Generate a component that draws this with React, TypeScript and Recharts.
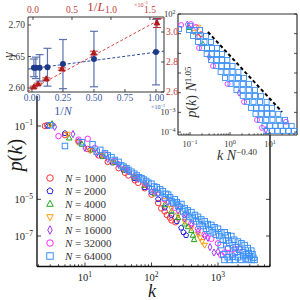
import React from "react";
import { ScatterChart, Scatter, XAxis, YAxis, ErrorBar, Legend } from "recharts";

const FONT = "'Liberation Serif', 'DejaVu Serif', serif";
const INK = "#1a1a1a";

// main panel: p(k) per network size, [k, p(k)]
const pk1000 = [[2.5, 0.1], [2.7, 0.11], [5, 0.032], [8, 0.014], [11, 5.6e-3], [16, 2.5e-3], [22, 1.1e-3], [32, 5.0e-4], [40, 2.8e-4], [45, 2.0e-4], [56, 1.1e-4], [63, 7.9e-5], [79, 4.0e-5], [100, 1.8e-5], [126, 6.3e-6], [140, 3.2e-6], [158, 2.2e-6], [170, 1.4e-6], [190, 1.0e-6], [200, 7.1e-7], [229, 5.6e-7]];
const pk2000 = [[2.8, 0.1], [5, 0.04], [8, 0.014], [12, 5.0e-3], [18, 2.2e-3], [26, 1.0e-3], [38, 4.0e-4], [55, 1.4e-4], [79, 4.5e-5], [100, 2.5e-5], [126, 1.0e-5], [158, 3.5e-6], [200, 1.4e-6], [240, 6.3e-7], [280, 2.8e-7], [302, 1.6e-7], [331, 1.1e-7]];
const pk4000 = [[3.2, 0.13], [5.8, 0.022], [9, 0.01], [13, 5.0e-3], [19, 2.2e-3], [28, 1.0e-3], [40, 4.0e-4], [56, 1.6e-4], [79, 5.6e-5], [112, 2.0e-5], [158, 5.0e-6], [200, 2.2e-6], [251, 1.0e-6], [316, 4.5e-7], [355, 3.2e-7], [398, 2.0e-7], [420, 1.1e-7], [437, 6.3e-8]];
const pk8000 = [[3, 0.12], [5.5, 0.036], [7.8, 0.013], [12, 4.5e-3], [18, 2.5e-3], [26, 1.1e-3], [38, 4.5e-4], [55, 1.8e-4], [79, 6.3e-5], [112, 2.2e-5], [158, 8.9e-6], [200, 3.2e-6], [251, 1.4e-6], [316, 6.3e-7], [398, 2.8e-7], [501, 1.26e-7], [540, 8.0e-8], [575, 5.0e-8], [631, 3.2e-8]];
const pk16000 = [[3.5, 0.089], [6.6, 0.036], [10, 6.3e-3], [15, 3.2e-3], [22, 1.6e-3], [32, 7.9e-4], [45, 3.5e-4], [63, 1.3e-4], [89, 5.0e-5], [126, 2.0e-5], [178, 7.1e-6], [251, 2.5e-6], [316, 8.9e-7], [398, 4.0e-7], [501, 1.8e-7], [631, 1.0e-7], [708, 7.9e-8], [759, 2.5e-8], [871, 1.26e-8], [1000, 1.4e-8]];
const pk32000 = [[4, 0.028], [8, 0.018], [11, 0.02], [14, 6.3e-3], [20, 2.8e-3], [28, 1.26e-3], [40, 5.0e-4], [56, 1.8e-4], [79, 7.1e-5], [112, 2.8e-5], [158, 1.0e-5], [224, 3.5e-6], [316, 1.4e-6], [398, 5.0e-7], [501, 2.5e-7], [631, 1.26e-7], [794, 7.1e-8], [1000, 4.0e-8], [1122, 8.9e-9], [1259, 1.26e-8], [1413, 2.2e-8], [1600, 1.0e-8], [1778, 2.0e-8], [2089, 2.1e-8]];
const pk64000 = [
  [3, 0.11], [5, 8.1e-3], [9, 0.013], [13, 0.01], [15, 4.0e-3], [17, 5.0e-3], [20, 3.2e-3], [22, 2.5e-3], [25, 2.0e-3], [28, 1.4e-3],
  [32, 1.1e-3], [35, 7.1e-4], [38, 6.0e-4], [42, 5.0e-4], [45, 4.0e-4], [50, 3.2e-4], [55, 2.5e-4], [60, 2.0e-4], [65, 1.6e-4],
  [71, 1.4e-4], [76, 1.2e-4], [83, 1.0e-4], [90, 8.0e-5], [100, 7.1e-5], [102, 3.5e-5], [110, 5.0e-5], [120, 4.5e-5], [126, 2.2e-5],
  [135, 3.5e-5], [148, 2.8e-5], [158, 1.26e-5], [165, 2.0e-5], [178, 1.8e-5], [190, 1.3e-5], [200, 7.9e-6], [212, 6.3e-6],
  [224, 1.0e-5], [240, 7.0e-6], [251, 4.5e-6], [265, 3.8e-6], [282, 5.6e-6], [300, 2.2e-6], [316, 3.2e-6], [331, 1.4e-6],
  [350, 2.5e-6], [370, 1.1e-6], [398, 2.0e-6], [417, 8.9e-7], [450, 1.4e-6], [470, 6.3e-7], [501, 1.1e-6], [525, 4.5e-7],
  [560, 8.0e-7], [590, 3.5e-7], [631, 6.3e-7], [661, 2.5e-7], [700, 4.5e-7], [740, 2.0e-7], [794, 4.0e-7], [832, 1.6e-7],
  [890, 3.0e-7], [930, 1.2e-7], [1000, 2.5e-7], [1047, 1.0e-7], [1100, 3.2e-8], [1120, 1.6e-7], [1180, 6.3e-8], [1200, 1.0e-8],
  [1259, 1.6e-7], [1318, 5.6e-8], [1400, 2.0e-8], [1400, 1.1e-7], [1480, 4.2e-8], [1585, 1.0e-7], [1660, 3.2e-8], [1750, 6.3e-8],
  [1800, 1.2e-8], [1850, 2.5e-8], [1995, 5.0e-8], [2089, 1.8e-8], [2250, 4.0e-8], [2350, 1.3e-8], [2400, 8.0e-9], [2512, 3.2e-8],
  [2630, 1.0e-8], [2800, 2.2e-8], [2900, 1.2e-8], [3000, 8.0e-9], [3162, 1.6e-8], [3300, 1.0e-8], [3400, 6.5e-9], [1250, 5.0e-9],
  [1400, 7.0e-9], [1500, 5.0e-9], [1650, 7.5e-9], [1778, 5.0e-9], [2000, 7.0e-9], [2239, 5.0e-9], [2600, 6.0e-9], [2818, 5.0e-9],
  [3200, 5.0e-9], [3548, 5.0e-9],
];

const kTicks = [2, 3, 4, 5, 6, 7, 8, 9, 10, 20, 30, 40, 50, 60, 70, 80, 90, 100, 200, 300, 400, 500, 600, 700, 800, 900, 1000, 2000, 3000, 4000, 5000, 6000];
const pTicks = [1e-7, 1e-5, 1e-1];

// upper-left inset: exponent vs 1/N (x1e-3, blue) and vs 1/L (x1e-2, red)
const invN = [0.0156, 0.03125, 0.0625, 0.125, 0.25, 0.5, 1.0];
const gammaN = [2.632, 2.632, 2.632, 2.633, 2.638, 2.646, 2.657];
const gammaNErr = [0.014, 0.017, 0.021, 0.03, 0.039, 0.044, 0.052];
const fitNx = [-0.032, 1.065];
const fitNy = [2.63, 2.6585];
const invL = [0.01, 0.065, 0.17, 0.37, 0.78, 1.59];
const gammaL = [2.633, 2.653, 2.687, 2.753, 2.86, 3.06];
const gammaLErr = [0.006, 0.006, 0.007, 0.008, 0.012, 0.03];
const fitLx = [-0.064, 1.68];
const fitLy = [2.606, 3.098];

// upper-right inset: collapse, [k N^-0.40, p(k) N^1.05]
const col64000 = [[0.053, 17.4], [0.1, 25], [0.094, 15.4], [0.13, 15.4], [0.178, 15.4], [0.119, 7.64], [0.173, 7.64], [0.251, 7.64], [0.158, 3.79], [0.23, 3.79], [0.335, 3.79], [0.2, 1.88], [0.266, 1.88], [0.355, 1.88], [0.473, 1.88], [0.26, 0.933], [0.349, 0.933], [0.468, 0.933], [0.631, 0.933], [0.335, 0.462], [0.46, 0.462], [0.631, 0.462], [0.856, 0.462], [0.447, 0.229], [0.613, 0.229], [0.841, 0.229], [1.155, 0.229], [0.582, 0.114], [0.818, 0.114], [1.155, 0.114], [1.62, 0.114], [0.75, 0.0564], [1.09, 0.0564], [1.585, 0.0564], [2.24, 0.0564], [1.03, 0.028], [1.46, 0.028], [2.09, 0.028], [2.99, 0.028], [1.45, 0.0139], [2.07, 0.0139], [2.95, 0.0139], [4.22, 0.0139], [2.08, 6.89e-3], [2.95, 6.89e-3], [4.22, 6.89e-3], [5.96, 6.89e-3], [2.66, 3.41e-3], [3.87, 3.41e-3], [5.62, 3.41e-3], [8.22, 3.41e-3], [3.35, 1.69e-3], [4.52, 1.69e-3], [6.13, 1.69e-3], [8.27, 1.69e-3], [11.2, 1.69e-3], [4.34, 8.39e-4], [6.03, 8.39e-4], [8.41, 8.39e-4], [11.6, 8.39e-4], [16.1, 8.39e-4], [5.62, 4.16e-4], [8.04, 4.16e-4], [11.5, 4.16e-4], [16.5, 4.16e-4], [23.7, 4.16e-4], [7.24, 2.06e-4], [9.89, 2.06e-4], [13.6, 2.06e-4], [18.5, 2.06e-4], [25.4, 2.06e-4], [34.7, 2.06e-4], [8.18, 1.15e-4], [11.2, 1.15e-4], [15.4, 1.15e-4], [21.1, 1.15e-4], [29.0, 1.15e-4], [39.8, 1.15e-4]];
const col32000 = [[0.06, 27.5], [0.106, 31], [0.14, 22], [0.168, 1.88], [0.376, 0.229], [0.866, 0.028], [2.24, 3.41e-3], [4.73, 4.16e-4], [6.3, 1.63e-4], [25, 3.3e-4]];
const col16000 = [[0.085, 30], [0.3, 0.66], [1.68, 9.8e-3], [7.9, 1.3e-4]];
const col8000 = [[0.16, 22], [0.125, 12]];
const col4000 = [[0.21, 3.0], [0.095, 20]];
const col1000 = [[0.158, 6.8], [0.19, 9.5]];
const guideX = [0.28, 20];
const guideY = [12.2, 1.06e-3];

const colTicksX = [0.06, 0.07, 0.08, 0.09, 0.1, 0.2, 0.3, 0.4, 0.5, 0.6, 0.7, 0.8, 0.9, 1, 2, 3, 4, 5, 6, 7, 8, 9, 10, 20, 30, 40];
const colTicksY = [1e-4, 1e-3, 1e-2, 1e-1, 1, 10, 100];

type Pt = { x: number; y: number };
const pairs = (a: number[][]): Pt[] => a.map(([x, y]) => ({ x, y }));
const zip = (xs: number[], ys: number[], es?: number[]) =>
  xs.map((x, i) => ({ x, y: ys[i], err: es ? es[i] : 0 }));

function Marker({ cx, cy, kind, color, s, fill = "none", sw = 1 }: any) {
  const h = s / 2;
  if (kind === "circle") return <circle cx={cx} cy={cy} r={h} fill={fill} stroke={color} strokeWidth={sw} />;
  if (kind === "square") return <rect x={cx - h} y={cy - h} width={s} height={s} fill={fill} stroke={color} strokeWidth={sw} />;
  let v: number[][] = [];
  if (kind === "up") v = [[0, -1.15], [1, 0.7], [-1, 0.7]];
  if (kind === "down") v = [[0, 1.15], [1, -0.7], [-1, -0.7]];
  if (kind === "diamond") v = [[0, -1.3], [0.7, 0], [0, 1.3], [-0.7, 0]];
  if (kind === "pentagon") v = [0, 1, 2, 3, 4].map((i) => [Math.sin((i * 2 * Math.PI) / 5), -Math.cos((i * 2 * Math.PI) / 5)]);
  return <polygon points={v.map(([a, b]) => `${cx + a * h},${cy + b * h}`).join(" ")} fill={fill} stroke={color} strokeWidth={sw} />;
}

const series = [
  { n: 1000, main: pk1000, col: col1000, color: "#ff3030", kind: "circle" },
  { n: 2000, main: pk2000, col: [], color: "#2222e6", kind: "pentagon" },
  { n: 4000, main: pk4000, col: col4000, color: "#1fa31f", kind: "up" },
  { n: 8000, main: pk8000, col: col8000, color: "#ff9a00", kind: "down" },
  { n: 16000, main: pk16000, col: col16000, color: "#a335ff", kind: "diamond" },
  { n: 32000, main: pk32000, col: col32000, color: "#ff2cff", kind: "circle" },
  { n: 64000, main: pk64000, col: col64000, color: "#3a90f8", kind: "square" },
];

const isDecade = (v: number) => Math.abs(Math.log10(v) - Math.round(Math.log10(v))) < 1e-6;
const sup = (base: string, e: string) => (
  <>
    {base}
    <tspan dy="-0.55em" fontSize="72%">{e}</tspan>
  </>
);
const pow10 = (v: number) => {
  const e = Math.round(Math.log10(v));
  return sup("10", e < 0 ? `\u2212${-e}` : `${e}`);
};

type Side = "bottom" | "top" | "left" | "right";
type TickOpts = {
  len: number;
  fs?: number;
  gap?: number;
  color?: string;
  line?: string;
  label?: (v: number) => React.ReactNode;
  major?: (v: number) => boolean;
};

// inward tick marks drawn by hand, label placed outside the frame
const makeTick = (side: Side, o: TickOpts) => (p: any) => {
  const { x, y } = p;
  const v = p.payload.value;
  const major = o.major ? o.major(v) : true;
  const l = major ? o.len : o.len * 0.55;
  const fs = o.fs ?? 10;
  const g = o.gap ?? 3;
  const lab = major && o.label ? o.label(v) : null;
  let x2 = x, y2 = y, tx = x, ty = y, anchor = "middle";
  if (side === "bottom") { y2 = y - l; ty = y + g + fs * 0.75; }
  if (side === "top") { y2 = y + l; ty = y - g; }
  if (side === "left") { x2 = x + l; tx = x - g; ty = y + fs * 0.35; anchor = "end"; }
  if (side === "right") { x2 = x - l; tx = x + g; ty = y + fs * 0.35; anchor = "start"; }
  return (
    <g>
      <line x1={x} y1={y} x2={x2} y2={y2} stroke={o.line ?? "#222"} strokeWidth={0.8} />
      {lab !== null && (
        <text x={tx} y={ty} textAnchor={anchor} fontFamily={FONT} fontSize={fs} fill={o.color ?? INK}>
          {lab}
        </text>
      )}
    </g>
  );
};

const layer: React.CSSProperties = { position: "absolute", left: 0, top: 0, width: 300, height: 300 };
const it = { fontStyle: "italic" } as const;
// axes get a 1px box (a zero-size axis is not drawn), margins are shifted by that pixel

function MainPanel() {
  const axisLine = { stroke: "#111", strokeWidth: 1.4 };
  return (
    <div style={layer}>
      <ScatterChart width={300} height={300} margin={{ top: 96, right: 29, bottom: 32.5, left: 36 }}>
        <XAxis
          type="number"
          dataKey="k"
          scale="log"
          domain={[1.9, 6050]}
          allowDataOverflow
          ticks={kTicks}
          interval={0}
          height={1}
          tickSize={0}
          tickMargin={0}
          tickLine={false}
          axisLine={axisLine}
          tick={makeTick("bottom", { len: 4, fs: 10.5, gap: 6.5, label: pow10, major: isDecade, line: "#111" })}
          label={{
            content: () => (
              <text x={152} y={296.5} textAnchor="middle" fontFamily={FONT} fontSize={18} style={it} fill={INK}>
                k
              </text>
            ),
          }}
        />
        <YAxis
          type="number"
          dataKey="p"
          scale="log"
          domain={[2.18e-9, 4.31]}
          allowDataOverflow
          ticks={pTicks}
          interval={0}
          width={1}
          tickSize={0}
          tickMargin={0}
          tickLine={false}
          axisLine={axisLine}
          tick={makeTick("left", { len: 4, fs: 10.5, gap: 4, label: pow10, line: "#111" })}
          label={{
            content: () => (
              <text x={22} y={155} transform="rotate(-90 22 155)" textAnchor="middle" fontFamily={FONT} fontSize={20} fill={INK}>
                <tspan style={it}>p</tspan>(<tspan style={it}>k</tspan>)
              </text>
            ),
          }}
        />
        <YAxis
          yAxisId="frame"
          orientation="right"
          type="number"
          scale="log"
          domain={[2.18e-9, 4.31]}
          allowDataOverflow
          ticks={pTicks}
          interval={0}
          width={1}
          tickSize={0}
          tickMargin={0}
          tickLine={false}
          axisLine={axisLine}
          tick={makeTick("right", { len: 4, line: "#111" })}
        />
        {series.map((s) => (
          <Scatter
            key={s.n}
            name={`N = ${s.n}`}
            data={s.main.map(([k, p]) => ({ k, p }))}
            shape={(pr: any) => <Marker cx={pr.cx} cy={pr.cy} kind={s.kind} color={s.color} s={5.5} />}
            isAnimationActive={false}
          />
        ))}
        <Legend
          layout="vertical"
          align="center"
          verticalAlign="middle"
          wrapperStyle={{ left: 44, top: 171.5, width: 90 }}
          content={() => (
            <div>
              {series.map((s) => (
                <div key={s.n} style={{ height: 13, display: "flex", alignItems: "center" }}>
                  <svg width={12} height={12}>
                    <Marker cx={6} cy={6} kind={s.kind} color={s.color} s={6.5} />
                  </svg>
                  <span style={{ marginLeft: 9, fontFamily: FONT, fontSize: 11, color: "#333", whiteSpace: "nowrap" }}>
                    <i>N</i> = {s.n}
                  </span>
                </div>
              ))}
            </div>
          )}
        />
      </ScatterChart>
    </div>
  );
}

const RED = "#c23b3b";
const BLUE = "#3d5aa6";

function GammaInset() {
  const frame = { stroke: "#333", strokeWidth: 1 };
  return (
    <div style={layer}>
      <ScatterChart width={300} height={300} margin={{ top: 16, right: 135, bottom: 207, left: 27 }}>
        <XAxis
          xAxisId="n"
          type="number"
          dataKey="x"
          domain={[-0.032, 1.065]}
          allowDataOverflow
          ticks={[0, 0.25, 0.5, 0.75, 1]}
          interval={0}
          height={1}
          tickSize={0}
          tickMargin={0}
          tickLine={false}
          axisLine={frame}
          tick={makeTick("bottom", { len: 3, fs: 9.5, gap: 2, color: BLUE, label: (v) => v.toFixed(2) })}
          label={{
            content: () => (
              <g fontFamily={FONT}>
                <text x={63} y={115} textAnchor="middle" fontSize={12} fill={BLUE}>
                  1/<tspan style={it}>N</tspan>
                </text>
                <text x={151} y={109} fontSize={6} fill={BLUE}>
                  {sup("\u00d710", "\u22123")}
                </text>
              </g>
            ),
          }}
        />
        <XAxis
          xAxisId="l"
          orientation="top"
          type="number"
          dataKey="x"
          domain={[-0.064, 1.68]}
          allowDataOverflow
          ticks={[0, 0.5, 1, 1.5]}
          interval={0}
          height={1}
          tickSize={0}
          tickMargin={0}
          tickLine={false}
          axisLine={frame}
          tick={makeTick("top", { len: 3, fs: 9.5, gap: 4, color: RED, label: (v) => v.toFixed(1) })}
          label={{
            content: () => (
              <g fontFamily={FONT}>
                <text x={96} y={11} textAnchor="middle" fontSize={13} fill={RED}>
                  1/<tspan style={it}>L</tspan>
                </text>
                <text x={134} y={6.5} fontSize={6} fill={RED}>
                  {sup("\u00d710", "\u22122")}
                </text>
              </g>
            ),
          }}
        />
        <YAxis
          yAxisId="n"
          type="number"
          dataKey="y"
          domain={[2.5937, 2.7127]}
          allowDataOverflow
          ticks={[2.6, 2.65, 2.7]}
          interval={0}
          width={1}
          tickSize={0}
          tickMargin={0}
          tickLine={false}
          axisLine={frame}
          tick={makeTick("left", { len: 3, fs: 9.5, gap: 3, color: "#3a3a3a", label: (v) => v.toFixed(2) })}
          label={{
            content: () => (
              <text x={13} y={55} transform="rotate(-90 13 55)" textAnchor="middle" fontFamily={FONT} fontSize={14} style={it} fill="#333">
                γ
              </text>
            ),
          }}
        />
        <YAxis
          yAxisId="l"
          orientation="right"
          type="number"
          dataKey="y"
          domain={[2.6, 3.1]}
          allowDataOverflow
          ticks={[2.6, 2.8, 3.0]}
          interval={0}
          width={1}
          tickSize={0}
          tickMargin={0}
          tickLine={false}
          axisLine={frame}
          tick={makeTick("right", { len: 3, fs: 9.5, gap: 2, color: RED, label: (v) => v.toFixed(1) })}
        />
        <Scatter
          xAxisId="n"
          yAxisId="n"
          data={zip(fitNx, fitNy)}
          line={{ stroke: "#2c4b9c", strokeWidth: 1, strokeDasharray: "3 2" }}
          shape={() => <g />}
          isAnimationActive={false}
        />
        <Scatter
          xAxisId="l"
          yAxisId="l"
          data={zip(fitLx, fitLy)}
          line={{ stroke: "#d24545", strokeWidth: 1, strokeDasharray: "3 2" }}
          shape={() => <g />}
          isAnimationActive={false}
        />
        <Scatter
          xAxisId="n"
          yAxisId="n"
          data={zip(invN, gammaN, gammaNErr)}
          shape={(pr: any) => <circle cx={pr.cx} cy={pr.cy} r={3} fill="#1d3a8a" />}
          isAnimationActive={false}
        >
          <ErrorBar dataKey="err" direction="y" width={4} stroke="#5a72b0" strokeWidth={1.2} />
        </Scatter>
        <Scatter
          xAxisId="l"
          yAxisId="l"
          data={zip(invL, gammaL, gammaLErr)}
          shape={(pr: any) => <Marker cx={pr.cx} cy={pr.cy} kind="up" color="#b01c1c" fill="#b01c1c" s={5.5} />}
          isAnimationActive={false}
        >
          <ErrorBar dataKey="err" direction="y" width={4} stroke="#c03030" strokeWidth={1} />
        </Scatter>
      </ScatterChart>
    </div>
  );
}

function CollapseInset() {
  const frame = { stroke: "#333", strokeWidth: 1.2 };
  return (
    <>
      <div style={{ position: "absolute", left: 178, top: 14, width: 119, height: 121, background: "#fff" }} />
      <div style={layer}>
        <ScatterChart width={300} height={300} margin={{ top: 13, right: 2, bottom: 164, left: 177 }}>
          <XAxis
            type="number"
            dataKey="x"
            scale="log"
            domain={[0.05, 47.3]}
            allowDataOverflow
            ticks={colTicksX}
            interval={0}
            height={1}
            tickSize={0}
            tickMargin={0}
            tickLine={false}
            axisLine={frame}
            tick={makeTick("bottom", { len: 3, fs: 8.5, gap: 6, color: "#333", label: pow10, major: isDecade })}
            label={{
              content: () => (
                <text x={237} y={160} textAnchor="middle" fontFamily={FONT} fontSize={14} fill="#333">
                  <tspan style={it}>k</tspan> <tspan style={it}>N</tspan>
                  <tspan dy={-5} fontSize={9}>{"\u22120.40"}</tspan>
                </text>
              ),
            }}
          />
          <XAxis
            xAxisId="top"
            orientation="top"
            type="number"
            scale="log"
            domain={[0.05, 47.3]}
            allowDataOverflow
            ticks={[0.1, 1, 10]}
            interval={0}
            height={1}
            tickSize={0}
            tickMargin={0}
            tickLine={false}
            axisLine={frame}
            tick={makeTick("top", { len: 3 })}
          />
          <YAxis
            type="number"
            dataKey="y"
            scale="log"
            domain={[7.08e-5, 100]}
            allowDataOverflow
            ticks={colTicksY}
            interval={0}
            width={1}
            tickSize={0}
            tickMargin={0}
            tickLine={false}
            axisLine={frame}
            tick={makeTick("left", {
              len: 3,
              fs: 8.5,
              gap: 2.5,
              color: "#333",
              label: (v) => (v < 2e-3 || v > 50 ? pow10(v) : null),
            })}
            label={{
              content: () => (
                <text x={196} y={92} transform="rotate(-90 196 92)" textAnchor="middle" fontFamily={FONT} fontSize={14} fill="#333">
                  <tspan style={it}>p</tspan>(<tspan style={it}>k</tspan>) <tspan style={it}>N</tspan>
                  <tspan dy={-5} fontSize={9}>1.05</tspan>
                </text>
              ),
            }}
          />
          <YAxis
            yAxisId="right"
            orientation="right"
            type="number"
            scale="log"
            domain={[7.08e-5, 100]}
            allowDataOverflow
            ticks={colTicksY}
            interval={0}
            width={1}
            tickSize={0}
            tickMargin={0}
            tickLine={false}
            axisLine={frame}
            tick={makeTick("right", { len: 3 })}
          />
          {series
            .filter((s) => s.col.length > 0)
            .map((s) => (
              <Scatter
                key={s.n}
                data={pairs(s.col)}
                shape={(pr: any) => <Marker cx={pr.cx} cy={pr.cy} kind={s.kind} color={s.color} s={5} sw={0.9} />}
                isAnimationActive={false}
              />
            ))}
          <Scatter
            data={zip(guideX, guideY)}
            line={{ stroke: "#000", strokeWidth: 2, strokeDasharray: "3.5 2.5" }}
            shape={() => <g />}
            isAnimationActive={false}
          />
        </ScatterChart>
      </div>
    </>
  );
}

export default function App() {
  return (
    <div style={{ position: "absolute", left: 0, top: 0, width: 300, height: 300, background: "#fff" }}>
      <MainPanel />
      <CollapseInset />
      <GammaInset />
    </div>
  );
}
